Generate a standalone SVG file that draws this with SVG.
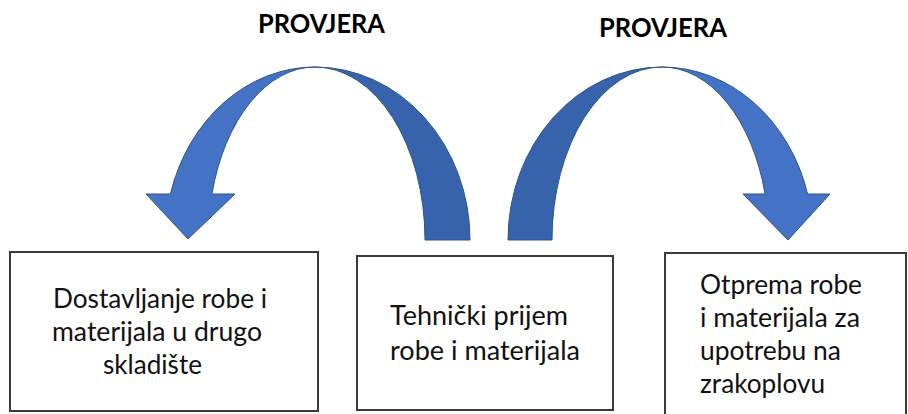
<svg xmlns="http://www.w3.org/2000/svg" width="908" height="414" viewBox="0 0 908 414">
<style>
.box{fill:#fff;stroke:#3a3a3a;stroke-width:2}
.t{font-family:Lato,"Open Sans","Liberation Sans",sans-serif;font-size:27px;fill:#111}
.h{font-family:Lato,"Open Sans","Liberation Sans",sans-serif;font-size:26px;font-weight:bold;fill:#000}
.front{fill:#4472C4;stroke:#2F528F;stroke-width:1}
.back{fill:#3763AD;stroke:#2F528F;stroke-width:1}
</style>
<rect width="908" height="414" fill="#fff"/>
<g id="connectors">
  <g id="arrow-left">
    <path class="back" d="M315,67 A155,173 0 0 1 470,240 L425,240 A110,173 0 0 0 315,67 Z"/>
    <path class="front" d="M146,194 L170.4,194 A150,173 0 0 1 315,67 A107,173 0 0 0 211.9,194 L235,194 L188,239 Z"/>
  </g>
  <g id="arrow-right">
    <path class="back" d="M662,67 A154,173 0 0 0 508,240 L552,240 A110,173 0 0 1 662,67 Z"/>
    <path class="front" d="M830,194 L807.6,194 A151,173 0 0 0 662,67 A107,173 0 0 1 765.1,194 L743,194 L788,240 Z"/>
  </g>
</g>
<g id="label-left"><text class="h" x="258" y="33" textLength="127" lengthAdjust="spacingAndGlyphs">PROVJERA</text></g>
<g id="label-right"><text class="h" x="599" y="37" textLength="128" lengthAdjust="spacingAndGlyphs">PROVJERA</text></g>
<g id="node-dostavljanje">
  <rect class="box" x="10" y="252" width="308" height="159"/>
  <text class="t" x="53" y="308" textLength="214" lengthAdjust="spacingAndGlyphs">Dostavljanje robe i</text>
  <text class="t" x="52" y="341" textLength="210" lengthAdjust="spacingAndGlyphs">materijala u drugo</text>
  <text class="t" x="103" y="374" textLength="99" lengthAdjust="spacingAndGlyphs">skladište</text>
</g>
<g id="node-tehnicki">
  <rect class="box" x="357" y="256" width="256" height="154"/>
  <text class="t" x="390" y="325" textLength="178" lengthAdjust="spacingAndGlyphs">Tehnički prijem</text>
  <text class="t" x="390" y="360" textLength="190" lengthAdjust="spacingAndGlyphs">robe i materijala</text>
</g>
<g id="node-otprema">
  <rect class="box" x="665" y="253" width="241" height="170"/>
  <text class="t" x="700" y="294" textLength="162" lengthAdjust="spacingAndGlyphs">Otprema robe</text>
  <text class="t" x="700" y="327" textLength="160" lengthAdjust="spacingAndGlyphs">i materijala za</text>
  <text class="t" x="700" y="360" textLength="141" lengthAdjust="spacingAndGlyphs">upotrebu na</text>
  <text class="t" x="700" y="393" textLength="125" lengthAdjust="spacingAndGlyphs">zrakoplovu</text>
</g>
</svg>
